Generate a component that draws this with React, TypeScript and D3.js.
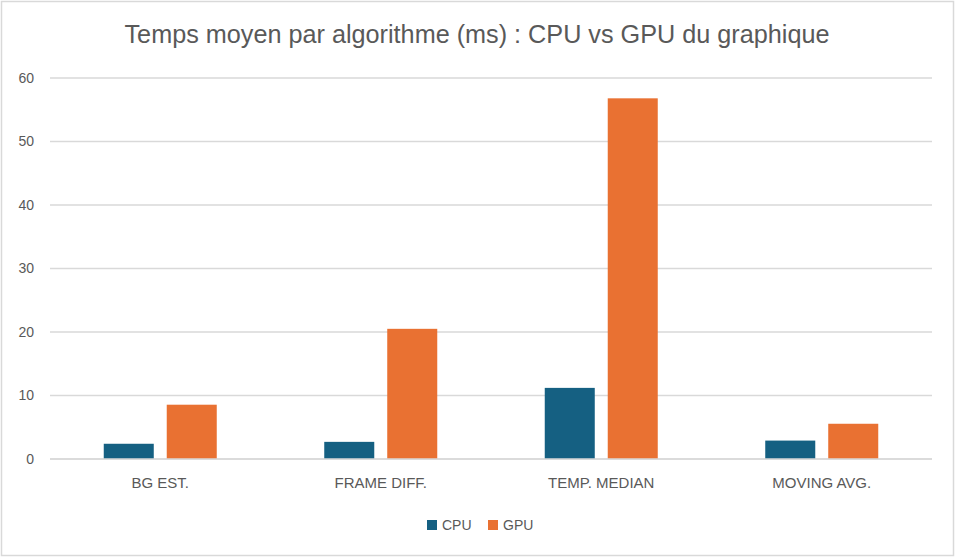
import * as d3 from 'd3';
import React, { useEffect, useRef } from 'react';

const categories = ['BG EST.', 'FRAME DIFF.', 'TEMP. MEDIAN', 'MOVING AVG.'];
const seriesNames = ['CPU', 'GPU'];
const cpuValues = [2.4, 2.7, 11.2, 2.9];
const gpuValues = [8.55, 20.5, 56.8, 5.55];
const yTicks = [0, 10, 20, 30, 40, 50, 60];
const seriesColors = ['#156082', '#E97132'];

const title = 'Temps moyen par algorithme (ms) : CPU vs GPU du graphique';

export default function App() {
  const svgRef = useRef<SVGSVGElement>(null);
  const width = 956;
  const height = 557;

  useEffect(() => {
    const svg = d3.select(svgRef.current);
    svg.selectAll('*').remove();

    const margin = { top: 78, right: 24, bottom: 98, left: 50 };
    const plotRight = width - margin.right;
    const plotBottom = height - margin.bottom;

    // outer border of the chart area
    svg.append('rect')
      .attr('x', 1.5).attr('y', 1.5)
      .attr('width', width - 4).attr('height', height - 3)
      .attr('fill', '#fff')
      .attr('stroke', '#D9D9D9')
      .attr('stroke-width', 1.5);

    const x0 = d3.scaleBand<string>()
      .domain(categories)
      .range([margin.left, plotRight])
      .padding(0);

    const groupW = 113;
    const x1 = d3.scaleBand<string>()
      .domain(seriesNames)
      .range([0, groupW])
      .paddingInner(0.206)
      .paddingOuter(0);

    const y = d3.scaleLinear().domain([0, 60]).range([plotBottom, margin.top]);

    // gridlines
    svg.append('g')
      .selectAll('line')
      .data(yTicks)
      .enter()
      .append('line')
      .attr('x1', margin.left)
      .attr('x2', plotRight)
      .attr('y1', d => y(d))
      .attr('y2', d => y(d))
      .attr('stroke', '#D9D9D9')
      .attr('stroke-width', 1.3);

    svg.append('g')
      .selectAll('text')
      .data(yTicks)
      .enter()
      .append('text')
      .attr('x', 34)
      .attr('y', d => y(d))
      .attr('dy', '0.35em')
      .attr('text-anchor', 'end')
      .style('font-family', '"Liberation Sans", Arial, sans-serif')
      .style('font-size', '14px')
      .style('fill', '#595959')
      .text(d => d);

    const rows = categories.map((c, i) => ({ cat: c, values: [cpuValues[i], gpuValues[i]] }));

    const groups = svg.append('g')
      .selectAll('g')
      .data(rows)
      .enter()
      .append('g')
      .attr('transform', d => `translate(${x0(d.cat)! + x0.bandwidth() / 2 - groupW / 2},0)`);

    groups.selectAll('rect')
      .data(d => d.values.map((v, i) => ({ name: seriesNames[i], v, i })))
      .enter()
      .append('rect')
      .attr('x', d => x1(d.name)!)
      .attr('width', x1.bandwidth())
      .attr('y', d => y(d.v))
      .attr('height', d => y(0) - y(d.v))
      .attr('fill', d => seriesColors[d.i]);

    // baseline on top of bars
    svg.append('line')
      .attr('x1', margin.left).attr('x2', plotRight)
      .attr('y1', y(0)).attr('y2', y(0))
      .attr('stroke', '#D9D9D9')
      .attr('stroke-width', 1.3);

    svg.append('g')
      .selectAll('text')
      .data(categories)
      .enter()
      .append('text')
      .attr('x', d => x0(d)! + x0.bandwidth() / 2)
      .attr('y', plotBottom + 29)
      .attr('text-anchor', 'middle')
      .style('font-family', '"Liberation Sans", Arial, sans-serif')
      .style('font-size', '15px')
      .style('fill', '#595959')
      .text(d => d);

    svg.append('text')
      .attr('x', 477)
      .attr('y', 43)
      .attr('text-anchor', 'middle')
      .attr('textLength', 705)
      .attr('lengthAdjust', 'spacingAndGlyphs')
      .style('font-family', '"Liberation Sans Narrow", "Liberation Sans", Arial, sans-serif')
      .style('font-size', '25px')
      .style('fill', '#595959')
      .text(title);

    // legend
    const legendX = [427, 488];
    const legend = svg.append('g');
    seriesNames.forEach((name, i) => {
      const item = legend.append('g').attr('transform', `translate(${legendX[i]},520)`);
      item.append('rect')
        .attr('width', 10)
        .attr('height', 10)
        .attr('fill', seriesColors[i]);
      item.append('text')
        .attr('x', 15)
        .attr('y', 5)
        .attr('dy', '0.35em')
        .style('font-family', '"Liberation Sans", Arial, sans-serif')
        .style('font-size', '14px')
        .style('fill', '#595959')
        .text(name);
    });
  }, []);

  return (
    <svg
      ref={svgRef}
      width={width}
      height={height}
      style={{ position: 'absolute', left: 0, top: 0, background: '#fff' }}
    />
  );
}
